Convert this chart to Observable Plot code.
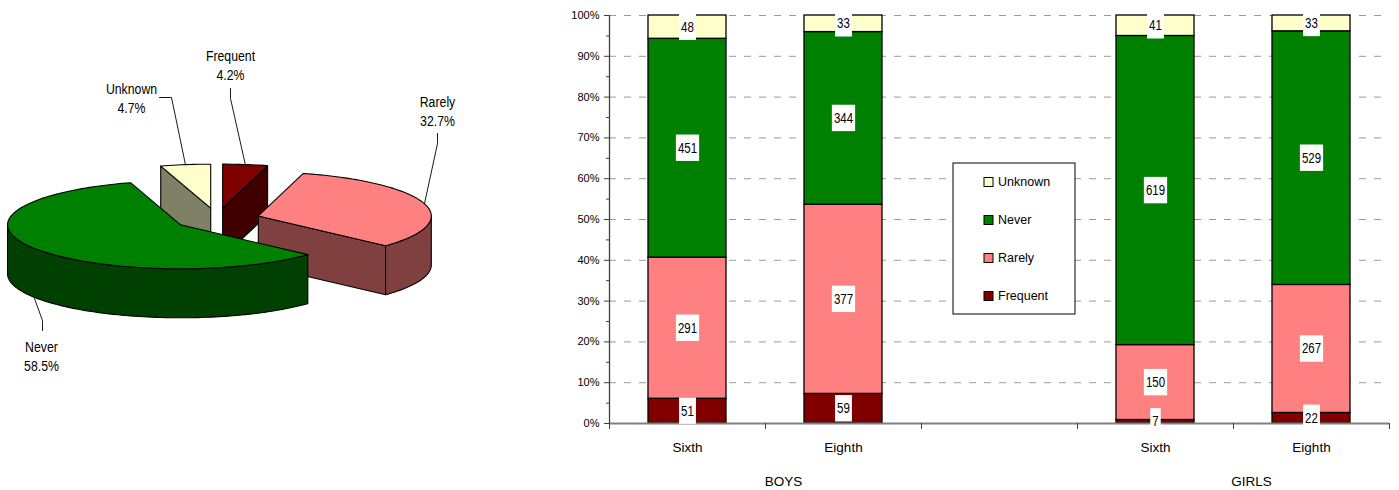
<!DOCTYPE html>
<html>
<head>
<meta charset="utf-8">
<script src="https://cdn.jsdelivr.net/npm/d3@7"></script>
<script src="https://cdn.jsdelivr.net/npm/@observablehq/plot@0.6"></script>
<style>
  body { margin: 0; background: #fff; }
  #chart { position: relative; width: 1399px; height: 490px; overflow: hidden; }
  #pie { position: absolute; left: 0; top: 0; }
  #bars { position: absolute; left: 540px; top: 0; }
</style>
</head>
<body>
<div id="chart"><div id="pie"></div><div id="bars"></div></div>
<script>
// Response categories, bottom of each stack first
const responses = ["Frequent", "Rarely", "Never", "Unknown"];
const grades = ["Sixth", "Eighth"];
const groups = ["BOYS", "GIRLS"];

// Counts per response, in the order of `responses`
const boysSixth = [51, 291, 451, 48];
const boysEighth = [59, 377, 344, 33];
const girlsSixth = [7, 150, 619, 41];
const girlsEighth = [22, 267, 529, 33];

const topColors = ["#800000", "#FF8080", "#008000", "#FFFFCC"];
const sideColors = ["#400000", "#804040", "#004000", "#808066"];

const FONT = '"Liberation Sans", Arial, sans-serif';
const NARROW = 0.82; // horizontal squeeze giving a narrow face

// Squeeze the glyphs of a text element horizontally about its anchor
function narrow(el, k = NARROW) {
  const t = el.getAttribute("transform");
  if (t) el.setAttribute("transform", `${t} scale(${k},1)`);
  else {
    const x = +el.getAttribute("x") || 0, y = +el.getAttribute("y") || 0;
    el.setAttribute("transform", `translate(${x},${y}) scale(${k},1) translate(${-x},${-y})`);
  }
}

// ---------- Stacked 100% columns ----------
// Category axis: two groups with a blank category between them
const slots = [["BOYS", "Sixth", boysSixth], ["BOYS", "Eighth", boysEighth], null,
               ["GIRLS", "Sixth", girlsSixth], ["GIRLS", "Eighth", girlsEighth]];

const segments = [];
const columns = [];
slots.forEach((col, i) => {
  if (!col) return;
  const [group, grade, counts] = col;
  columns.push({group, grade, i});
  const total = d3.sum(counts);
  let acc = 0;
  counts.forEach((n, k) => {
    segments.push({i, group, grade, response: responses[k], n,
                   y1: acc / total, y2: (acc + n) / total, fill: topColors[k]});
    acc += n;
  });
});

const groupLabels = groups.map(g => ({g, x: d3.mean(columns.filter(c => c.group === g), c => c.i + 0.5)}));
const major = d3.range(0, 11).map(i => i / 10);
const minor = d3.range(0, 10).map(i => i / 10 + 0.05);

const bars = Plot.plot({
  width: 859, height: 490,
  marginLeft: 69, marginRight: 10, marginTop: 15, marginBottom: 67,
  style: {fontFamily: FONT, fontSize: "12px", color: "#000", background: "transparent"},
  x: {domain: [0, slots.length], axis: null},
  y: {domain: [0, 1], axis: null},
  marks: [
    Plot.gridY(major.filter(d => d > 0), {stroke: "#9a9a9a", strokeOpacity: 1, strokeDasharray: "7,8"}),
    Plot.rect(segments, {x1: d => d.i + 0.25, x2: d => d.i + 0.75, y1: "y1", y2: "y2",
                         fill: "fill", stroke: "#000", strokeWidth: 1.3}),
    Plot.ruleY([0], {stroke: "#808080", strokeWidth: 2}),
    Plot.ruleX([0], {stroke: "#404040", strokeWidth: 1.3}),
    Plot.axisY(major, {tickSize: 5, tickPadding: 5, tickFormat: d3.format(".0%"), fontSize: 11,
                       stroke: "#404040", label: null}),
    Plot.axisY(minor, {tickSize: 3, tickFormat: () => "", stroke: "#404040", label: null}),
    Plot.axisX(d3.range(0, slots.length + 1), {tickSize: 6, tickFormat: () => "", stroke: "#404040", label: null}),
    Plot.text(columns, {x: d => d.i + 0.5, y: 0, dy: 24, text: "grade", fontSize: 13.5}),
    Plot.text(groupLabels, {x: "x", y: 0, dx: 18, dy: 58, text: "g", fontSize: 13.5}),
    Plot.text(segments, {x: d => d.i + 0.5, y: d => (d.y1 + d.y2) / 2, text: "n", fontSize: 14})
  ]
});
document.getElementById("bars").append(bars);

// Segment values: narrow face on a white box
const textGroups = d3.select(bars).selectAll('g[aria-label="text"]').nodes();
d3.select(textGroups[textGroups.length - 1]).selectAll("text").each(function () {
  narrow(this);
  const b = this.getBBox();
  d3.select(this.parentNode).insert("rect", () => this)
    .attr("transform", this.getAttribute("transform"))
    .attr("x", b.x - 2.5).attr("y", b.y - 5)
    .attr("width", b.width + 5).attr("height", b.height + 10)
    .attr("fill", "#fff");
});

// Legend box, listed top of stack first
const legend = d3.select(bars).append("g").attr("transform", "translate(413,163)")
  .style("font-family", FONT).style("font-size", "12.5px").attr("text-anchor", "start");
legend.append("rect").attr("width", 122).attr("height", 151)
  .attr("fill", "#fff").attr("stroke", "#000");
responses.slice().reverse().forEach((r, j) => {
  const k = responses.indexOf(r);
  const row = legend.append("g").attr("transform", `translate(0,${19 + 38 * j})`);
  row.append("rect").attr("x", 31).attr("y", -4.5).attr("width", 9).attr("height", 9)
    .attr("fill", topColors[k]).attr("stroke", "#000");
  row.append("text").attr("x", 45).attr("dy", "0.35em").text(r);
});

// ---------- Exploded 3-D pie of the pooled counts ----------
const pieTotals = responses.map((r, k) => boysSixth[k] + boysEighth[k] + girlsSixth[k] + girlsEighth[k]);
const grand = d3.sum(pieTotals);
const PIE = {cx: 216.5, cy: 218.5, rx: 173, ry: 44, depth: 49, explode: 43};
const deg = Math.PI / 180;

let run = 0;
const slices = responses.map((r, k) => {
  const a0 = run / grand * 360;
  run += pieTotals[k];
  const a1 = run / grand * 360;
  const mid = (a0 + a1) / 2;
  return {r, k, a0, a1, mid, share: pieTotals[k] / grand,
          ox: PIE.cx + PIE.explode * Math.sin(mid * deg),
          oy: PIE.cy - PIE.explode * (PIE.ry / PIE.rx) * Math.cos(mid * deg)};
});
const rim = (s, a, drop = 0) => ({x: s.ox + PIE.rx * Math.sin(a * deg), y: s.oy - PIE.ry * Math.cos(a * deg) + drop});
const arc = (s, from, to, drop = 0) => {
  const n = Math.max(2, Math.ceil(Math.abs(to - from) / 1.5));
  return d3.range(n + 1).map(j => rim(s, from + (to - from) * j / n, drop));
};

// Back slices first, then each slice's side faces before its top
const faces = [];
slices.slice().sort((p, q) => Math.cos(q.mid * deg) - Math.cos(p.mid * deg)).forEach(s => {
  const D = PIE.depth;
  const apex = {x: s.ox, y: s.oy}, apexLow = {x: s.ox, y: s.oy + D};
  const side = sideColors[s.k], top = topColors[s.k];
  if (Math.sin(s.a0 * deg) < -1e-6) faces.push({fill: side, pts: [apex, rim(s, s.a0), rim(s, s.a0, D), apexLow, apex]});
  if (Math.sin(s.a1 * deg) > 1e-6) faces.push({fill: side, pts: [apex, rim(s, s.a1), rim(s, s.a1, D), apexLow, apex]});
  const w0 = Math.max(s.a0, 90), w1 = Math.min(s.a1, 270);
  if (w1 > w0) faces.push({fill: side, pts: [...arc(s, w0, w1), ...arc(s, w1, w0, D), rim(s, w0)]});
  faces.push({fill: top, pts: [apex, ...arc(s, s.a0, s.a1), apex]});
});

// Callout text and leader elbows
const pieCallouts = [
  {r: "Frequent", tx: 230, ty: 64, elbow: [[230, 88], [230, 98]]},
  {r: "Unknown", tx: 131, ty: 97, elbow: [[159, 97], [171, 97]]},
  {r: "Rarely", tx: 437, ty: 110, elbow: [[437, 133], [437, 143]]},
  {r: "Never", tx: 41, ty: 355, elbow: [[42, 330], [42, 320]]}
].map(c => {
  const s = slices.find(s => s.r === c.r);
  const end = Math.cos(s.mid * deg) > 0 ? rim(s, s.mid) : rim(s, s.mid, PIE.depth);
  return {...c, label: `${c.r}\n${d3.format(".1%")(s.share)}`,
          leader: [...c.elbow.map(([x, y]) => ({x, y})), end]};
});

const pie = Plot.plot({
  width: 540, height: 490, margin: 0,
  style: {fontFamily: FONT, fontSize: "15px", color: "#000", background: "transparent"},
  x: {domain: [0, 540], range: [0, 540], axis: null},
  y: {domain: [0, 490], range: [0, 490], axis: null},
  marks: [
    ...faces.map(f => Plot.line(f.pts, {x: "x", y: "y", fill: f.fill, stroke: "#000",
                                        strokeWidth: 1.1, strokeLinejoin: "round"})),
    ...pieCallouts.map(c => Plot.line(c.leader, {x: "x", y: "y", stroke: "#000", strokeWidth: 0.9})),
    Plot.text(pieCallouts, {x: "tx", y: "ty", text: "label", fontSize: 15, lineHeight: 1.3})
  ]
});
document.getElementById("pie").append(pie);
d3.select(pie).selectAll('g[aria-label="text"] text').each(function () { narrow(this); });
</script>
</body>
</html>
